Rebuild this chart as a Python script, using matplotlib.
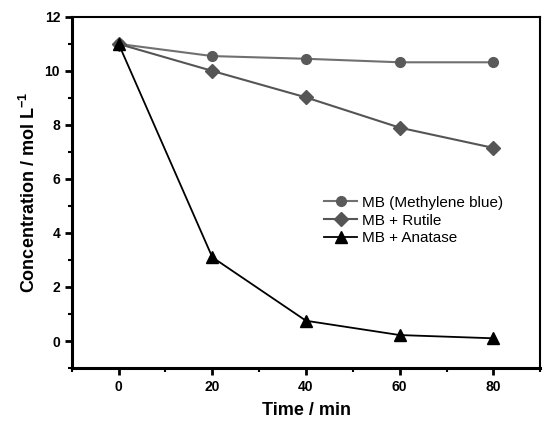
import numpy as np
import matplotlib.pyplot as plt
from matplotlib.ticker import MultipleLocator

# ---- data ----
time_min = [0, 20, 40, 60, 80]
mb = [11.0, 10.55, 10.45, 10.32, 10.32]
mb_rutile = [11.0, 10.0, 9.02, 7.9, 7.15]
mb_anatase = [11.0, 3.1, 0.75, 0.22, 0.1]

plt.rcParams['font.family'] = ['Liberation Sans', 'DejaVu Sans']
plt.rcParams['mathtext.fontset'] = 'custom'
plt.rcParams['mathtext.bf'] = 'Liberation Sans:bold'
plt.rcParams['mathtext.default'] = 'bf'

fig = plt.figure(figsize=(5.44, 4.23), dpi=100)
ax = fig.add_axes([0.132, 0.130, 0.861, 0.830])

ax.plot(time_min, mb, color='#707070', lw=1.5, marker='o', ms=7,
        mfc='#5a5a5a', mec='#5a5a5a', label='MB (Methylene blue)')
ax.plot(time_min, mb_rutile, color='#555555', lw=1.5, marker='D', ms=7,
        mfc='#555555', mec='#555555', label='MB + Rutile')
ax.plot(time_min, mb_anatase, color='black', lw=1.3, marker='^', ms=8,
        mfc='black', mec='black', label='MB + Anatase')

ax.set_xlim(-10, 90)
ax.set_ylim(-1, 12)
ax.xaxis.set_major_locator(MultipleLocator(20))
ax.xaxis.set_minor_locator(MultipleLocator(10))
ax.yaxis.set_major_locator(MultipleLocator(2))
ax.yaxis.set_minor_locator(MultipleLocator(1))

for s in ['left', 'bottom']:
    ax.spines[s].set_linewidth(2.2)
for s in ['top', 'right']:
    ax.spines[s].set_linewidth(1.5)

ax.tick_params(which='major', direction='out', length=5, width=2, labelsize=10)
ax.tick_params(which='minor', direction='out', length=3, width=1.5)
for lab in ax.get_xticklabels() + ax.get_yticklabels():
    lab.set_fontweight('bold')

ax.set_xlabel('Time / min', fontsize=13, fontweight='bold', labelpad=6)
ax.set_ylabel('Concentration / mol L$^{-1}$', fontsize=13, fontweight='bold', labelpad=4)

ax.legend(loc='center right', bbox_to_anchor=(0.95, 0.42), frameon=False,
          fontsize=11, handlelength=2.2, handletextpad=0.3, labelspacing=0.25)

fig.savefig('out.png', dpi=100)
